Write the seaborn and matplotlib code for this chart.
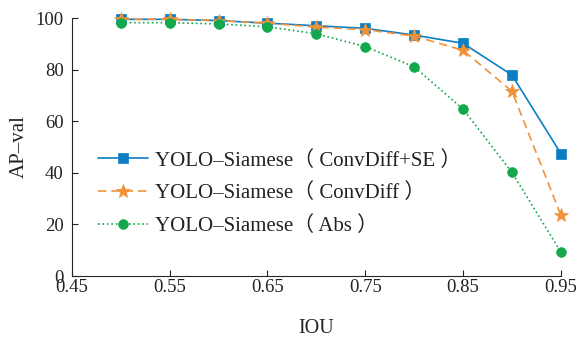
import numpy as np
import pandas as pd
import seaborn as sns
import matplotlib.pyplot as plt

iou = [0.50, 0.55, 0.60, 0.65, 0.70, 0.75, 0.80, 0.85, 0.90, 0.95]
ap_se = [99.5, 99.5, 99.0, 98.0, 97.0, 96.0, 93.4, 90.2, 77.9, 47.5]
ap_convdiff = [99.5, 99.5, 99.0, 98.0, 96.5, 95.5, 93.0, 87.5, 71.6, 23.6]
ap_abs = [98.2, 98.2, 97.7, 96.6, 93.9, 88.9, 81.1, 64.7, 40.2, 9.3]
labels = ["YOLO–Siamese（ ConvDiff+SE ）", "YOLO–Siamese（ ConvDiff ）", "YOLO–Siamese（ Abs ）"]

sns.set_style("ticks")
plt.rcParams['font.family'] = ['Liberation Serif', 'Noto Sans CJK SC']

fig = plt.figure(figsize=(5.8, 3.4), dpi=100)
ax = fig.add_axes([0.124, 0.188, 0.843, 0.759])

styles = [
    (ap_se, "#0a7fc4", "-", "s", 7),
    (ap_convdiff, "#f0923a", (0, (5, 3)), "*", 10),
    (ap_abs, "#12a84b", ":", "o", 7),
]
for (vals, col, ls, mk, ms), lab in zip(styles, labels):
    df = pd.DataFrame({"IOU": iou, "AP": vals})
    sns.lineplot(data=df, x="IOU", y="AP", ax=ax, color=col, linestyle=ls,
                 marker=mk, markersize=ms, markeredgewidth=0.5, markeredgecolor=col,
                 linewidth=1.2, label=lab, clip_on=False)

ax.set_xlim(0.45, 0.95)
ax.set_ylim(0, 100)
ax.set_xticks([0.45, 0.55, 0.65, 0.75, 0.85, 0.95])
ax.set_xticklabels(["0.45", "0.55", "0.65", "0.75", "0.85", "0.95"])
ax.set_yticks([0, 20, 40, 60, 80, 100])
ax.tick_params(direction="in", length=4, labelsize=13.5, colors="#222222")
ax.tick_params(axis="x", pad=2)
ax.tick_params(axis="y", pad=6)
ax.set_xlabel("IOU", fontsize=14.5, labelpad=17, color="#222222")
ax.set_ylabel("AP–val", fontsize=15, labelpad=5, color="#222222")
sns.despine(ax=ax)

leg = ax.legend(loc="center left", bbox_to_anchor=(0.015, 0.32), frameon=False,
                fontsize=15, handlelength=2.4, labelspacing=0.62, handletextpad=0.35)
for t in leg.get_texts():
    t.set_color("#222222")

fig.savefig("out.png", dpi=100)
